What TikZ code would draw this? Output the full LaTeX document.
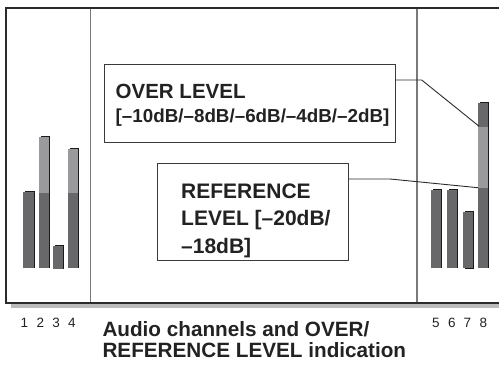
\documentclass[tikz,border=0pt]{standalone}
\usepackage{fontspec}
\setmainfont{Liberation Sans}
\definecolor{framec}{HTML}{2B2B2B}
\definecolor{sepc}{HTML}{7A7A7A}
\definecolor{shadc}{HTML}{BBBBBB}
\definecolor{bardark}{HTML}{68686B}
\definecolor{barlight}{HTML}{9A9A9C}
\definecolor{barshadow}{HTML}{1A1A1A}
\definecolor{boxc}{HTML}{3A3A3A}
\definecolor{txtc}{HTML}{222222}
\newcommand{\meterbar}[5]{% x0, x1, top, mid, bottom
  \fill[barshadow] ({#1+2},{#3-1.1}) rectangle ({#2+1.1},{#5+0.7});
  \fill[bardark] (#1,#3) rectangle (#2,#5);
  \fill[barlight] (#1,#3) rectangle (#2,#4);
}
\begin{document}
\begin{tikzpicture}[x=1pt,y=-1pt,
  labelbox/.style={draw=boxc, line width=1pt, fill=white, inner sep=0pt, rectangle},
  leader/.style={draw=framec, line width=0.9pt},
  boxtext/.style={anchor=base west, inner sep=0pt, text=txtc, font=\bfseries},
  chnum/.style={anchor=base, inner sep=0pt, text=txtc, font=\fontsize{13.5}{16}\selectfont},
]
\useasboundingbox (0,0) rectangle (499,367);
% shadow strip under frame
\fill[shadc] (11,304) rectangle (499,307.6);
% separators
\draw[sepc, line width=1.6pt] (90.3,8.3) -- (90.3,302.5);
\draw[sepc, line width=1.6pt] (416.7,8.3) -- (416.7,302.5);
% frame
\draw[framec, line width=2pt] (500,8.3) -- (6,8.3) -- (6,302.5) -- (500,302.5);
% left bars
\meterbar{23}{33.7}{191.7}{191.7}{267.7}
\meterbar{39}{49.3}{137.3}{192.7}{267.7}
\meterbar{53}{63}{245.7}{245.7}{268.7}
\meterbar{68}{78.3}{148.7}{192.7}{267.7}
% right bars
\meterbar{431}{441.3}{190}{190}{267.7}
\meterbar{447}{457.3}{190}{190}{267.7}
\meterbar{463}{473.3}{212.3}{212.3}{268.3}
\meterbar{478}{488.3}{102.7}{187.7}{267.7}
\fill[bardark] (478,102.7) rectangle (488.3,126.7);
% label boxes
\node[labelbox, minimum width=291.7pt, minimum height=78pt] (over) at (249.85,103.7) {};
\node[labelbox, minimum width=191pt, minimum height=96.7pt] (ref) at (253.2,211.65) {};
% texts in boxes
\node[boxtext, font=\fontsize{20.5}{24}\bfseries\selectfont] (o1t) at (115.5,98.3) {OVER LEVEL};
\node[boxtext, font=\fontsize{18.8}{22}\bfseries\selectfont] (o2t) at (115.5,122) {[–10dB/–8dB/–6dB/–4dB/–2dB]};
\node[boxtext, font=\fontsize{21}{24}\bfseries\selectfont] (r1t) at (181,198.3) {REFERENCE};
\node[boxtext, font=\fontsize{21}{24}\bfseries\selectfont] (r2t) at (181,225.7) {LEVEL [–20dB/};
\node[boxtext, font=\fontsize{21}{24}\bfseries\selectfont] (r3t) at (181,253) {–18dB]};
% leaders
\coordinate (ok) at (421.7,80);
\coordinate (oe) at (479,126.2);
\coordinate (rk) at (390,179);
\coordinate (re) at (478,187.7);
\draw[leader] (over.east |- ok) -- (ok) -- (oe);
\draw[leader] (ref.east |- rk) -- (rk) -- (re);
% channel numbers
\node[chnum] (n1) at (24.5,327) {1};
\node[chnum] (n2) at (40.3,327) {2};
\node[chnum] (n3) at (56.1,327) {3};
\node[chnum] (n4) at (71.9,327) {4};
\node[chnum] (n5) at (435.8,327.5) {5};
\node[chnum] (n6) at (451.8,327.5) {6};
\node[chnum] (n7) at (467.4,327.5) {7};
\node[chnum] (n8) at (483.5,327.5) {8};
% caption
\node[boxtext, font=\fontsize{20.7}{18.3}\bfseries\selectfont] (cap) at (102.3,336.7)
  {\begin{tabular}[t]{@{}l@{}}Audio channels and OVER/\\REFERENCE LEVEL indication\end{tabular}};
\end{tikzpicture}
\end{document}
